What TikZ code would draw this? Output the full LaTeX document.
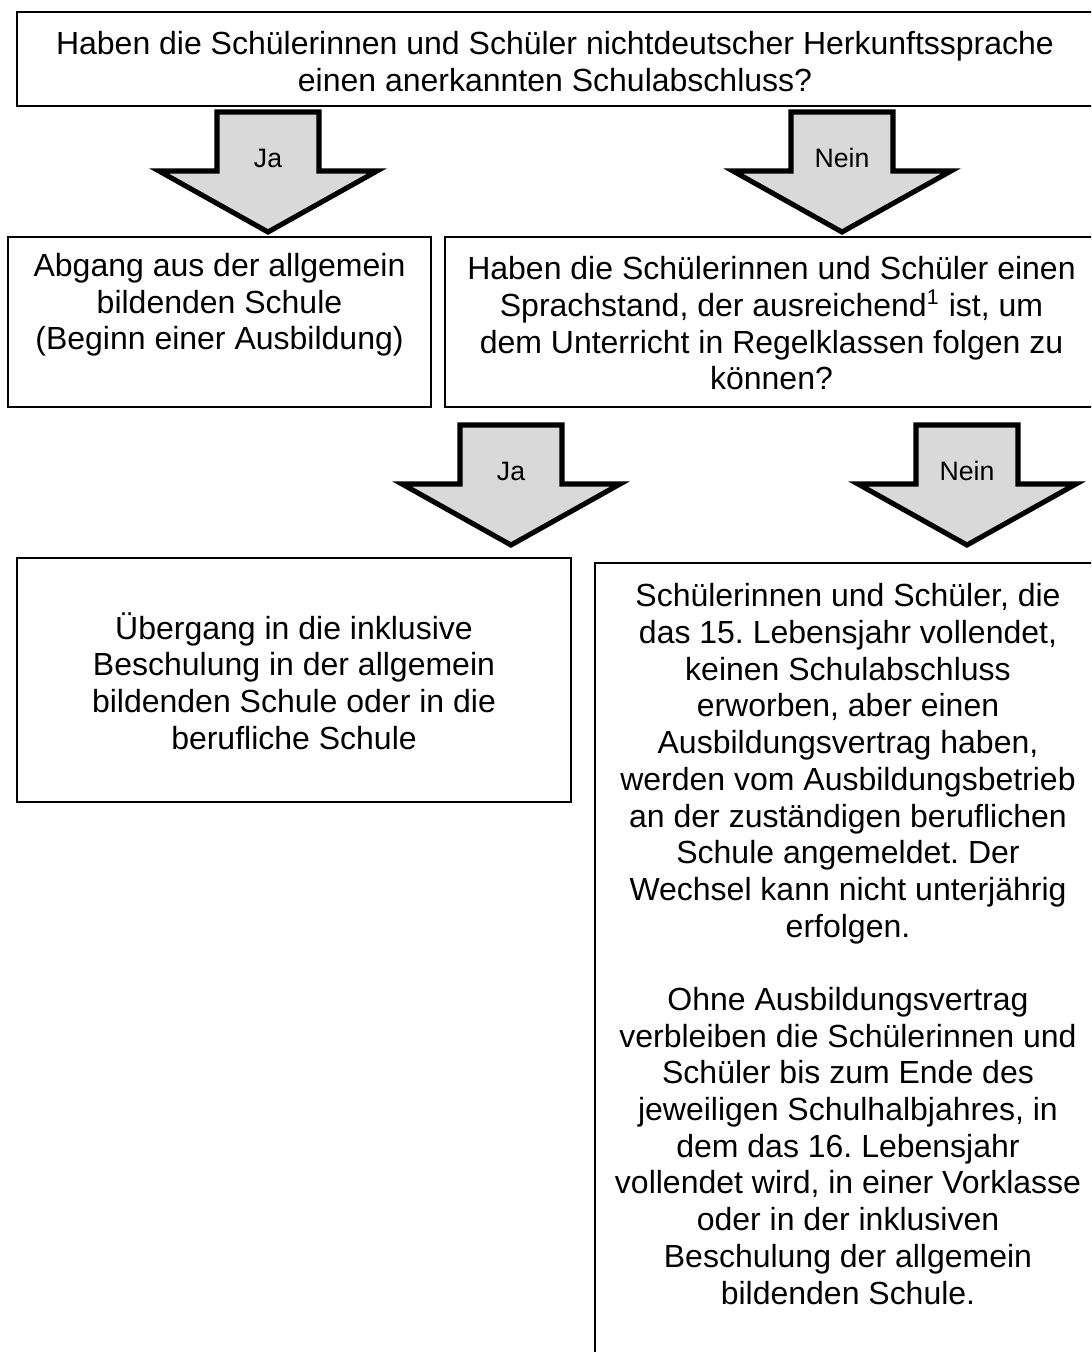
\documentclass[tikz,border=0pt]{standalone}
\usepackage{fontspec}
\setmainfont{Liberation Sans}
\usetikzlibrary{calc}
\frenchspacing
\begin{document}
\begin{tikzpicture}[x=0.375pt,y=-0.375pt,
  box/.style={draw=black,line width=0.6pt,rectangle,inner sep=0pt},
  txt/.style={align=center,inner sep=0pt,font=\fontsize{12}{13.76}\selectfont},
  barrow/.style={draw=black,line width=1.9pt,fill=arrowgray,line join=miter},
  lbl/.style={inner sep=0pt,font=\fontsize{10}{12}\selectfont}]
\definecolor{arrowgray}{HTML}{D9D9D9}
\useasboundingbox (0,0) rectangle (1091,1352);
\clip (0,0) rectangle (1091,1352);
% boxes
\node[box,minimum width=1076*0.375pt,minimum height=94*0.375pt] (q1) at (555,59) {};
\node[box,minimum width=423*0.375pt,minimum height=170*0.375pt] (b2l) at (219.5,322) {};
\node[box,minimum width=653*0.375pt,minimum height=170*0.375pt] (b2r) at (771.5,322) {};
\node[box,minimum width=554*0.375pt,minimum height=244*0.375pt] (b3l) at (294,680) {};
\node[box,minimum width=506*0.375pt,minimum height=817*0.375pt] (b3r) at (848,971.5) {};
% texts
\node[txt] (t1) at (555,61.5) {Haben die Schülerinnen und Schüler nichtdeutscher Herkunftssprache\\einen anerkannten Schulabschluss?};
\node[txt] (t2l) at (219.5,305) {Abgang aus der allgemein\\bildenden Schule\\(Beginn einer Ausbildung)};
\node[txt] (t2r) at (771.5,323.5) {Haben die Schülerinnen und Schüler einen\\Sprachstand, der ausreichend\textsuperscript{1} ist, um\\dem Unterricht in Regelklassen folgen zu\\können?};
\node[txt] (t3l) at (294,681) {Übergang in die inklusive\\Beschulung in der allgemein\\bildenden Schule oder in die\\berufliche Schule};
\node[txt] (t3r) at (848,944) {Schülerinnen und Schüler, die\\das 15. Lebensjahr vollendet,\\keinen Schulabschluss\\erworben, aber einen\\Ausbildungsvertrag haben,\\werden vom Ausbildungsbetrieb\\an der zuständigen beruflichen\\Schule angemeldet. Der\\Wechsel kann nicht unterjährig\\erfolgen.\\[13.76pt]Ohne Ausbildungsvertrag\\verbleiben die Schülerinnen und\\Schüler bis zum Ende des\\jeweiligen Schulhalbjahres, in\\dem das 16. Lebensjahr\\vollendet wird, in einer Vorklasse\\oder in der inklusiven\\Beschulung der allgemein\\bildenden Schule.};
% block arrows
\coordinate (a1) at (268,232);
\coordinate (a2) at (842,232);
\coordinate (a3) at (511,545);
\coordinate (a4) at (967,545);
\foreach \c/\l in {a1/Ja,a2/Nein,a3/Ja,a4/Nein}{
  \draw[barrow] (\c) -- ++(-109,-61) -- ++(58,0) -- ++(0,-59) -- ++(102,0) -- ++(0,59) -- ++(58,0) -- cycle;
  \node[lbl] (l\c) at ($(\c)+(0,-74)$) {\l};
}
\end{tikzpicture}
\end{document}
